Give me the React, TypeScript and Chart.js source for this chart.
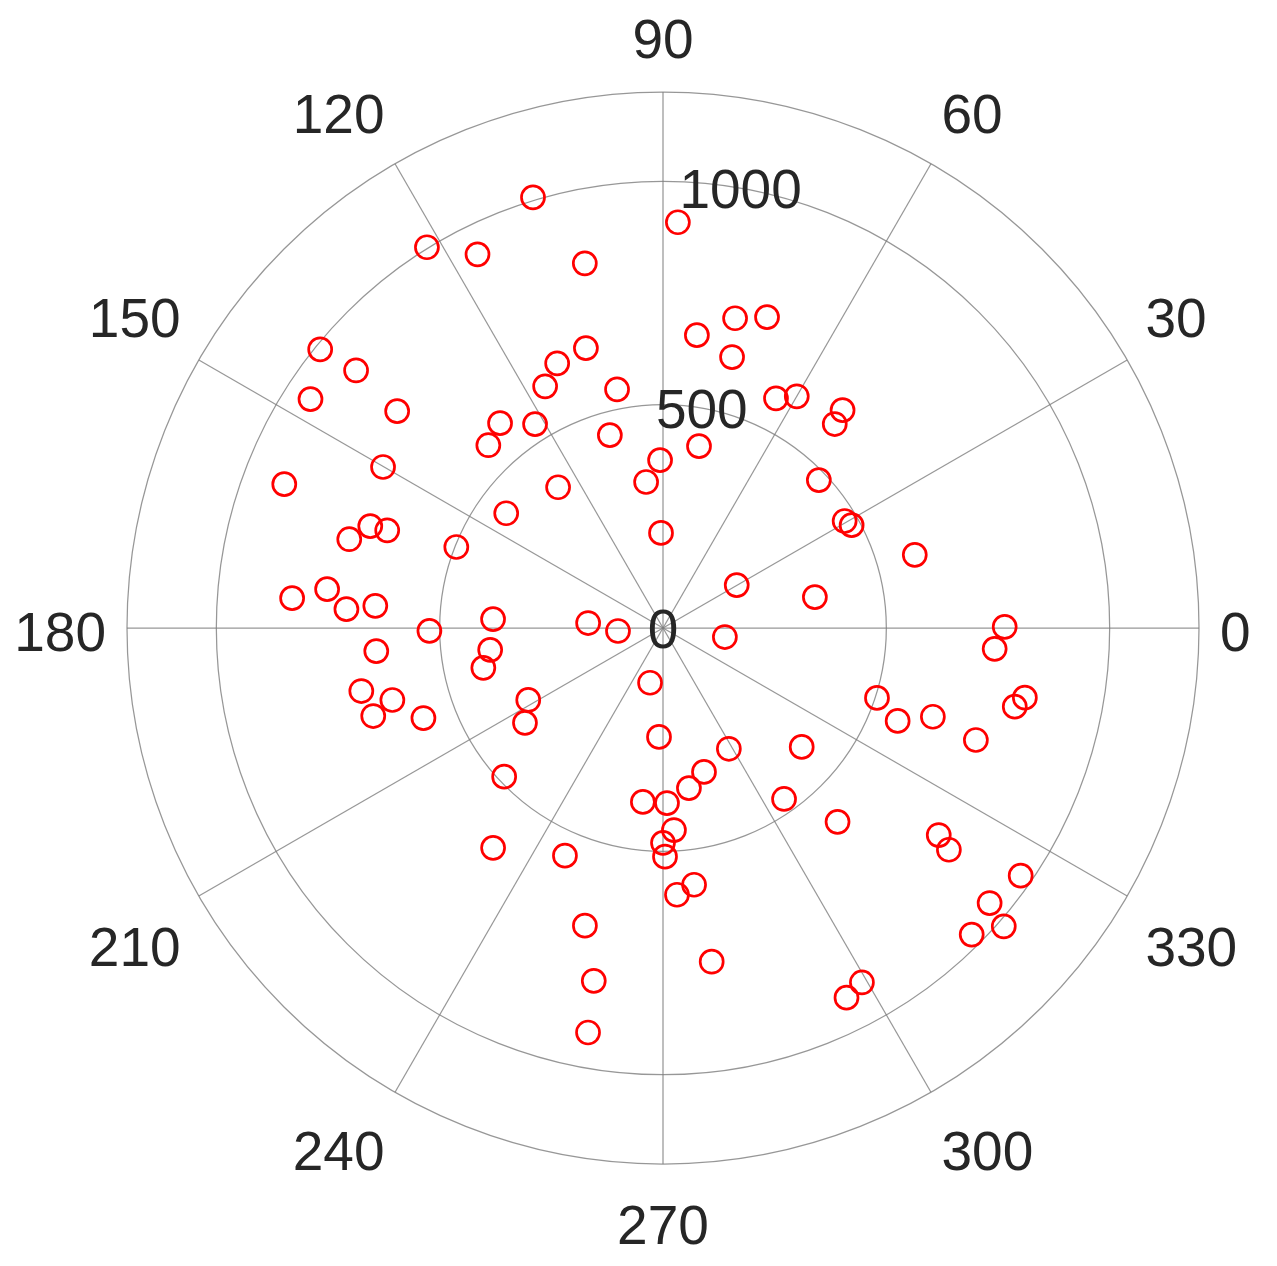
import React, { useEffect, useRef } from "react";
import { Chart, registerables } from "chart.js";

Chart.register(...registerables);

// Polar scatter data: angle in degrees, radius in data units
const thetaDeg: number[] = [
  106.8, 87.9, 121.8, 116.4, 102.1, 76.9, 71.5, 83.4, 75.7, 140.9,
  105.4, 140.0, 111.8, 116.0, 100.9, 147.0, 63.8, 60.0, 50.5, 49.9,
  140.8, 128.5, 122.1, 133.7, 105.4, 78.8, 91.0, 96.6, 150.1, 159.2,
  126.7, 43.5, 143.8, 30.5, 28.6, 160.8, 160.5, 164.2, 91.2, 158.6,
  16.2, 30.2, 11.5, 173.4, 175.4, 176.6, 175.6, 177.0, 176.2, 183.8,
  180.7, 351.7, 0.2, 356.4, 184.6, 187.2, 192.5, 256.7, 349.1, 347.4,
  341.9, 338.4, 341.8, 340.3, 191.8, 194.9, 196.9, 200.6, 208.1, 214.5,
  267.9, 298.6, 319.4, 223.1, 285.9, 279.2, 263.4, 271.3, 305.3, 312.0,
  273.1, 270.0, 270.5, 323.1, 322.2, 232.3, 246.7, 276.9, 273.0, 325.3,
  319.9, 318.8, 315.2, 255.3, 278.3, 258.9, 299.3, 296.4, 259.5,
];
const rho: number[] = [
  1007, 909, 1003, 934, 835, 712, 734, 660, 626, 989,
  650, 897, 638, 602, 544, 941, 573, 599, 632, 597,
  768, 586, 539, 566, 448, 415, 376, 329, 723, 907,
  393, 481, 435, 472, 481, 694, 655, 730, 213, 497,
  587, 191, 347, 757, 833, 710, 646, 381, 168, 101,
  523, 140, 765, 744, 644, 390, 412, 126, 825, 807,
  504, 565, 636, 744, 690, 627, 678, 573, 342, 375,
  244, 308, 409, 487, 335, 363, 392, 392, 469, 584,
  453, 481, 512, 772, 810, 622, 555, 579, 598, 974,
  956, 1014, 974, 689, 755, 805, 910, 924, 921,
];

const rMax = 1200;
const rTicks: number[] = [0, 500, 1000];
const rRings: number[] = [500, 1000, 1200];
const thetaTicks: number[] = [0, 30, 60, 90, 120, 150, 180, 210, 240, 270, 300, 330];
const rLabelAngle = 80;

const FONT_SIZE = 55;
const FONT = `${FONT_SIZE}px "Liberation Sans", Arial, sans-serif`;
const TEXT_COLOR = "#262626";
const GRID_COLOR = "rgba(125,125,125,0.8)";

const polarGrid = {
  id: "polarGrid",
  beforeDatasetsDraw(chart: any) {
    const { ctx, scales } = chart;
    const xs = scales.x;
    const ys = scales.y;
    const cx = xs.getPixelForValue(0);
    const cy = ys.getPixelForValue(0);
    const pr = (r: number) => xs.getPixelForValue(r) - cx;
    ctx.save();
    ctx.strokeStyle = GRID_COLOR;
    ctx.lineWidth = 1.25;
    rRings.forEach((r) => {
      ctx.beginPath();
      ctx.arc(cx, cy, pr(r), 0, Math.PI * 2);
      ctx.stroke();
    });
    const R = pr(rMax);
    thetaTicks.forEach((t) => {
      const a = (t * Math.PI) / 180;
      ctx.beginPath();
      ctx.moveTo(cx, cy);
      ctx.lineTo(cx + R * Math.cos(a), cy - R * Math.sin(a));
      ctx.stroke();
    });

    ctx.fillStyle = TEXT_COLOR;
    ctx.font = FONT;
    ctx.textAlign = "center";
    ctx.textBaseline = "alphabetic";
    const capHalf = FONT_SIZE * 0.716 * 0.5;
    const boxHalfH = 36;
    const gap = 21;
    const digitShift = 3.5;
    thetaTicks.forEach((t) => {
      const a = (t * Math.PI) / 180;
      const label = String(t);
      const w = ctx.measureText(label).width;
      const c = Math.cos(a);
      const s = Math.sin(a);
      const px = cx + (R + gap) * c;
      const py = cy - (R + gap) * s;
      let x = px;
      if (c > 1e-6) x = px + w / 2;
      else if (c < -1e-6) x = px - w / 2;
      let y = py;
      if (s > 1e-6) y = py - boxHalfH;
      else if (s < -1e-6) y = py + boxHalfH;
      ctx.fillText(label, x, y + digitShift + capHalf);
    });
    const ra = (rLabelAngle * Math.PI) / 180;
    rTicks.forEach((r) => {
      const d = pr(r);
      const x = cx + d * Math.cos(ra);
      const y = cy - d * Math.sin(ra);
      ctx.fillText(String(r), x, y + capHalf);
    });
    ctx.restore();
  },
};

export default function App() {
  const ref = useRef<HTMLCanvasElement | null>(null);
  useEffect(() => {
    if (!ref.current) return;
    const points = thetaDeg.map((t, i) => {
      const a = (t * Math.PI) / 180;
      return { x: rho[i] * Math.cos(a), y: rho[i] * Math.sin(a) };
    });
    const chart = new Chart(ref.current, {
      type: "scatter",
      data: {
        datasets: [
          {
            data: points,
            pointRadius: 11.5,
            pointHoverRadius: 11.5,
            pointBorderWidth: 2.7,
            borderColor: "#ff0000",
            backgroundColor: "rgba(0,0,0,0)",
            pointStyle: "circle",
          },
        ],
      },
      options: {
        animation: false,
        responsive: true,
        maintainAspectRatio: false,
        layout: { padding: { left: 127, right: 78, top: 92, bottom: 102 } },
        plugins: { legend: { display: false }, tooltip: { enabled: false } },
        events: [],
        scales: {
          x: { type: "linear", min: -rMax, max: rMax, display: false },
          y: { type: "linear", min: -rMax, max: rMax, display: false },
        },
      },
      plugins: [polarGrid],
    });
    return () => chart.destroy();
  }, []);
  return (
    <div style={{ position: "fixed", left: 0, top: 0, width: 1277, height: 1266, background: "#fff" }}>
      <canvas ref={ref} />
    </div>
  );
}
